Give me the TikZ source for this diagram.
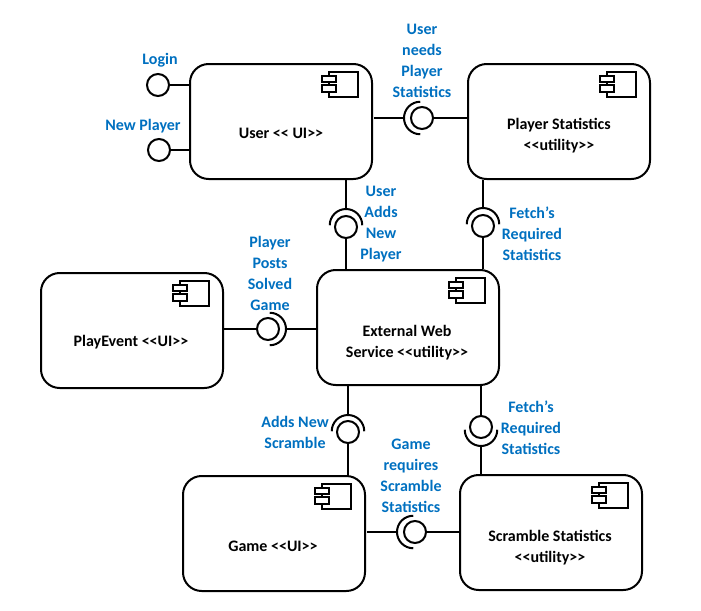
\documentclass[tikz,border=0pt]{standalone}
\usepackage{fontspec}
\setmainfont{Carlito}
\usetikzlibrary{calc}
\definecolor{labelblue}{HTML}{0070C0}
\newcommand{\compicon}[1]{
\draw[conn] ($(#1.north east)+(-44,9)$) rectangle ($(#1.north east)+(-15,34)$);
\draw[conn,fill=white] ($(#1.north east)+(-51,13)$) rectangle ($(#1.north east)+(-37,19)$);
\draw[conn,fill=white] ($(#1.north east)+(-51,22)$) rectangle ($(#1.north east)+(-37,29)$);
}
\newcommand{\socket}[2]{
\draw[conn] (#1) arc[start angle=#2, delta angle=90, radius=12.2pt] (#1) arc[start angle=#2, delta angle=-90, radius=12.2pt];
}
\tikzset{conn/.style={line width=1.5pt}}
\tikzset{compbox/.style={draw, line width=1.5pt, rounded corners=14pt, inner sep=0pt, minimum width=136.5pt, minimum height=86.25pt}}
\tikzset{ball/.style={circle, draw, line width=1.5pt, fill=none, inner sep=0pt, minimum size=16.5pt}}
\tikzset{blue label/.style={text=labelblue, font=\fontsize{12pt}{15.75pt}\selectfont\bfseries, align=center, inner sep=0pt}}
\tikzset{box label/.style={text=black, font=\fontsize{12pt}{15.75pt}\selectfont\bfseries, align=center, inner sep=0pt}}
\begin{document}
\begin{tikzpicture}[x=0.75pt,y=-0.75pt]
\useasboundingbox (0,0) rectangle (701,611);

% components
\node[compbox] (user) at (281,121.5) {};
\node[compbox] (stats) at (559,121.5) {};
\node[compbox] (web) at (408,327.5) {};
\node[compbox] (play) at (132,330.5) {};
\node[compbox] (game) at (274,533.5) {};
\node[compbox] (scramble) at (551,532.5) {};
\compicon{user} \compicon{stats} \compicon{web}
\compicon{play} \compicon{game} \compicon{scramble}

\node[box label] (userText) at (281,133) {User {<}{<} UI{>}{>}};
\node[box label] (statsText) at (559,135.5) {Player Statistics\\{<}{<}utility{>}{>}};
\node[box label] (webText) at (407,342.5) {External Web\\Service {<}{<}utility{>}{>}};
\node[box label] (playText) at (131,342) {PlayEvent {<}{<}UI{>}{>}};
\node[box label] (gameText) at (273,546) {Game {<}{<}UI{>}{>}};
\node[box label] (scrambleText) at (550,548) {Scramble Statistics\\{<}{<}utility{>}{>}};

% plain interfaces
\node[ball] (login) at (158,85) {}; \draw[conn] (login) -- (user.west |- login);
\node[ball] (newplayer) at (159,150) {}; \draw[conn] (newplayer) -- (user.west |- newplayer);

% ball and socket pairs
\node[ball] (ballStats) at (422,118) {};
\coordinate (sockStats) at (404,118); \socket{sockStats}{180}
\coordinate (startStats) at (374,118);
\draw[conn] (startStats) -- (sockStats);
\draw[conn] (ballStats) -- (stats.west |- ballStats);

\node[ball] (ballAdds) at (346,227) {};
\coordinate (sockAdds) at (346,209); \socket{sockAdds}{90}
\draw[conn] (user.south -| sockAdds) -- (sockAdds);
\draw[conn] (ballAdds) -- (web.north -| ballAdds);

\node[ball] (ballFetch) at (483,226) {};
\coordinate (sockFetch) at (483,208); \socket{sockFetch}{90}
\draw[conn] (stats.south -| sockFetch) -- (sockFetch);
\draw[conn] (ballFetch) -- (web.north -| ballFetch);

\node[ball] (ballPosts) at (268,329) {};
\coordinate (sockPosts) at (286,329); \socket{sockPosts}{0}
\draw[conn] (play.east |- ballPosts) -- (ballPosts);
\draw[conn] (sockPosts) -- (web.west |- sockPosts);

\node[ball] (ballScramble) at (348,432) {};
\coordinate (sockScramble) at (348,415); \socket{sockScramble}{90}
\draw[conn] (web.south -| sockScramble) -- (sockScramble);
\draw[conn] (ballScramble) -- (game.north -| ballScramble);

\node[ball] (ballRequired) at (481,427) {};
\coordinate (sockRequired) at (481,446); \socket{sockRequired}{270}
\draw[conn] (web.south -| ballRequired) -- (ballRequired);
\draw[conn] (sockRequired) -- (scramble.north -| sockRequired);

\node[ball] (ballGame) at (415,532) {};
\coordinate (sockGame) at (397,532); \socket{sockGame}{180}
\coordinate (startGame) at (367,532);
\draw[conn] (startGame) -- (sockGame);
\draw[conn] (ballGame) -- (scramble.west |- ballGame);

% blue labels
\node[blue label] (loginText) at (160,60) {Login};
\node[blue label] (newplayerText) at (143,126) {New Player};
\node[blue label] (needsText) at (422,61) {User\\needs\\Player\\Statistics};
\node[blue label] (addsText) at (381,224) {User\\Adds\\New\\Player};
\node[blue label] (fetchText) at (532,234) {Fetch's\\Required\\Statistics};
\node[blue label] (postsText) at (270,273.5) {Player\\Posts\\Solved\\Game};
\node[blue label] (scrambleAddsText) at (295,432.5) {Adds New\\Scramble};
\node[blue label] (fetchLowText) at (531,428) {Fetch's\\Required\\Statistics};
\node[blue label] (requiresText) at (411,475.5) {Game\\requires\\Scramble\\Statistics};

\end{tikzpicture}
\end{document}
